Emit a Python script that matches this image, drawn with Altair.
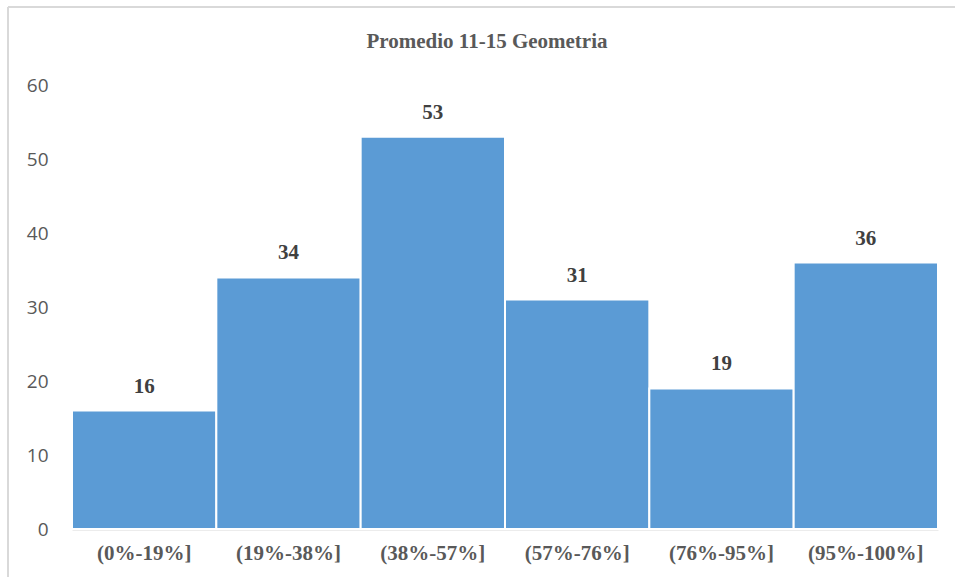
import altair as alt
import pandas as pd

categories = ["(0%-19%]", "(19%-38%]", "(38%-57%]", "(57%-76%]", "(76%-95%]", "(95%-100%]"]
values = [16, 34, 53, 31, 19, 36]
title_text = "Promedio 11-15 Geometria"

df = pd.DataFrame({"cat": categories, "val": values})

W, H = 866, 444

x = alt.X("cat:N", sort=categories, title=None,
          scale=alt.Scale(paddingInner=0, paddingOuter=0),
          axis=alt.Axis(labelAngle=0, labelFont="Liberation Serif", labelFontWeight="bold",
                        labelFontSize=21, labelColor="#595959", labelPadding=13,
                        ticks=False, domainColor="#d9d9d9", domainWidth=2))
y = alt.Y("val:Q", title=None,
          scale=alt.Scale(domain=[0, 60], nice=False),
          axis=alt.Axis(values=[0, 10, 20, 30, 40, 50, 60], grid=False, domain=False, ticks=False,
                        labelFont="Open Sans", labelFontSize=19, labelColor="#595959",
                        labelPadding=24))

bars = alt.Chart(df).mark_bar(color="#5B9BD5", stroke="white", strokeWidth=2).encode(x=x, y=y)

labels = alt.Chart(df).mark_text(font="Liberation Serif", fontWeight="bold", fontSize=21,
                                 color="#404040", dy=-24).encode(
    x=alt.X("cat:N", sort=categories), y="val:Q", text="val:Q")

title_df = pd.DataFrame({"t": [title_text]})
title = alt.Chart(title_df).mark_text(font="Liberation Serif", fontWeight="bold", fontSize=21,
                                      color="#595959", align="center", baseline="middle").encode(
    x=alt.value(W / 2 - 18), y=alt.value(-43), text="t:N")

frame = alt.Chart(df).mark_rule(color="#d9d9d9", strokeWidth=2).encode(
    x=alt.value(-64), x2=alt.value(-64), y=alt.value(-78), y2=alt.value(520))
frame_top = alt.Chart(df).mark_rule(color="#d9d9d9", strokeWidth=2).encode(
    x=alt.value(-64), x2=alt.value(900), y=alt.value(-78), y2=alt.value(-78))

chart = alt.layer(frame, frame_top, bars, labels, title).properties(
    width=W, height=H,
    autosize=alt.AutoSizeParams(type="none"),
    padding={"left": 72, "top": 85, "right": 17, "bottom": 48},
).configure(background="white").configure_view(strokeWidth=0, stroke="transparent")

chart.save("out.html", embed_options={"renderer": "svg", "actions": False})
